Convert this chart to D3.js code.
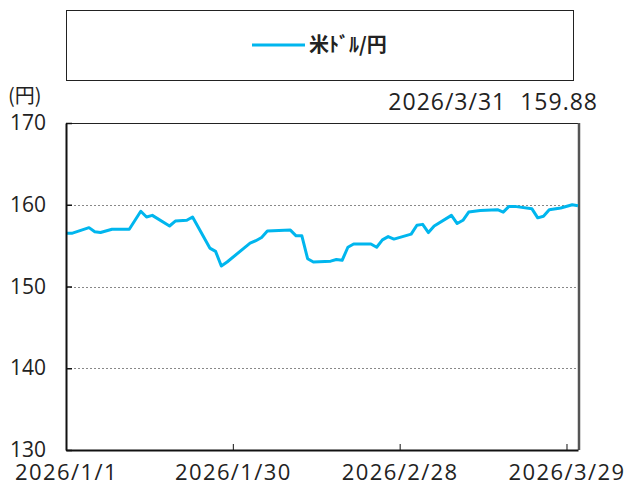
<!DOCTYPE html>
<html>
<head>
<meta charset="utf-8">
<script src="https://cdn.jsdelivr.net/npm/d3@7"></script>
<style>
  body { margin: 0; background: #fff; }
  text { font-family: "Open Sans", "Noto Sans CJK JP", sans-serif; fill: #222; white-space: pre; }
  .jp { font-family: "Noto Sans CJK JP", sans-serif; }
</style>
</head>
<body>
<div id="chart"></div>
<script>
// series: USD/JPY
const dates = [
  '2026-01-01','2026-01-02','2026-01-05','2026-01-06','2026-01-07','2026-01-09','2026-01-12',
  '2026-01-14','2026-01-15','2026-01-16','2026-01-19','2026-01-20','2026-01-22','2026-01-23',
  '2026-01-26','2026-01-27','2026-01-28','2026-01-29','2026-02-02','2026-02-03','2026-02-04',
  '2026-02-05','2026-02-09','2026-02-10','2026-02-11','2026-02-12','2026-02-13','2026-02-16',
  '2026-02-17','2026-02-18','2026-02-19','2026-02-20','2026-02-23','2026-02-24','2026-02-25',
  '2026-02-26','2026-02-27','2026-03-02','2026-03-03','2026-03-04','2026-03-05','2026-03-06',
  '2026-03-09','2026-03-10','2026-03-11','2026-03-12','2026-03-14','2026-03-17','2026-03-18',
  '2026-03-19','2026-03-20','2026-03-23','2026-03-24','2026-03-25','2026-03-26','2026-03-28',
  '2026-03-30','2026-03-31'
];
const usdJpy = [
  156.5,156.5,157.2,156.7,156.6,157.0,157.0,
  159.2,158.5,158.7,157.4,158.0,158.1,158.5,
  154.7,154.3,152.5,153.0,155.3,155.6,156.0,
  156.8,156.9,156.2,156.2,153.4,153.0,153.1,
  153.3,153.2,154.8,155.2,155.2,154.8,155.7,
  156.1,155.8,156.4,157.5,157.6,156.6,157.4,
  158.7,157.7,158.1,159.1,159.3,159.4,159.1,
  159.8,159.8,159.5,158.4,158.6,159.4,159.6,
  160.0,159.88
];
const yTicks = [130, 140, 150, 160, 170];
const xTickDates = ['2026-01-01','2026-01-30','2026-02-28','2026-03-29'];
const seriesName = '米ﾄﾞﾙ/円';
const lastLabel = '2026/3/31  159.88';
const unitLabel = '(円)';

const W = 628, H = 486;
const margin = { top: 123, right: 50, bottom: 36, left: 66 };
const parse = d3.timeParse('%Y-%m-%d');
const data = dates.map((d, i) => ({ date: parse(d), value: usdJpy[i] }));

const svg = d3.select('#chart').append('svg')
  .attr('width', W)
  .attr('height', H);

const x = d3.scaleTime()
  .domain([parse('2026-01-01'), parse('2026-03-31')])
  .range([margin.left, W - margin.right]);
const y = d3.scaleLinear()
  .domain([130, 170])
  .range([H - margin.bottom, margin.top]);

// legend box
svg.append('rect')
  .attr('x', 66.5).attr('y', 10.5)
  .attr('width', 507).attr('height', 70)
  .attr('fill', 'none').attr('stroke', '#222').attr('stroke-width', 1);
svg.append('line')
  .attr('x1', 252).attr('x2', 305).attr('y1', 45).attr('y2', 45)
  .attr('stroke', '#00b6ee').attr('stroke-width', 3);
svg.append('text')
  .attr('class', 'jp')
  .attr('x', 309).attr('y', 52)
  .attr('font-size', 20).attr('font-weight', 'bold')
  .text(seriesName);

// unit and last value
svg.append('text').attr('class', 'jp').attr('x', 8).attr('y', 103).attr('font-size', 20).text(unitLabel);
svg.append('text').attr('x', 598).attr('y', 110).attr('text-anchor', 'end')
  .attr('font-size', 23).attr('letter-spacing', 1).text(lastLabel);

// grid
svg.append('g').selectAll('line')
  .data(yTicks.filter(t => t > 130 && t < 170))
  .join('line')
  .attr('x1', x.range()[0]).attr('x2', x.range()[1])
  .attr('y1', d => Math.round(y(d)) + 0.5).attr('y2', d => Math.round(y(d)) + 0.5)
  .attr('stroke', '#888').attr('stroke-dasharray', '2,2');

// frame: top and right
svg.append('line')
  .attr('x1', x.range()[0]).attr('x2', x.range()[1])
  .attr('y1', margin.top + 0.5).attr('y2', margin.top + 0.5)
  .attr('stroke', '#222');
svg.append('line')
  .attr('x1', x.range()[1] + 1).attr('x2', x.range()[1] + 1)
  .attr('y1', margin.top).attr('y2', H - margin.bottom)
  .attr('stroke', '#555').attr('stroke-width', 2.5);

// line
svg.append('path')
  .datum(data)
  .attr('fill', 'none')
  .attr('stroke', '#00b6ee')
  .attr('stroke-width', 3)
  .attr('stroke-linejoin', 'round')
  .attr('d', d3.line().x(d => x(d.date)).y(d => y(d.value)));

// y axis
const yAxis = svg.append('g')
  .attr('transform', `translate(${margin.left},0)`)
  .call(d3.axisLeft(y).tickValues(yTicks).tickSize(-6).tickPadding(20).tickSizeOuter(0));
yAxis.select('.domain').attr('stroke', '#111').attr('stroke-width', 2);
yAxis.selectAll('.tick line').attr('stroke', '#111').attr('stroke-width', 1.5);
yAxis.selectAll('text').attr('font-size', 21).attr('fill', '#222');

// x axis
const xAxis = svg.append('g')
  .attr('transform', `translate(0,${H - margin.bottom})`)
  .call(d3.axisBottom(x).tickValues(xTickDates.map(parse)).tickSize(-6)
    .tickPadding(14).tickSizeOuter(0).tickFormat(d3.timeFormat('%Y/%-m/%-d')));
xAxis.select('.domain').attr('stroke', '#111').attr('stroke-width', 2);
xAxis.selectAll('.tick line').attr('stroke', '#111');
xAxis.selectAll('text').attr('font-size', 22).attr('letter-spacing', 1.4).attr('fill', '#222');
</script>
</body>
</html>
